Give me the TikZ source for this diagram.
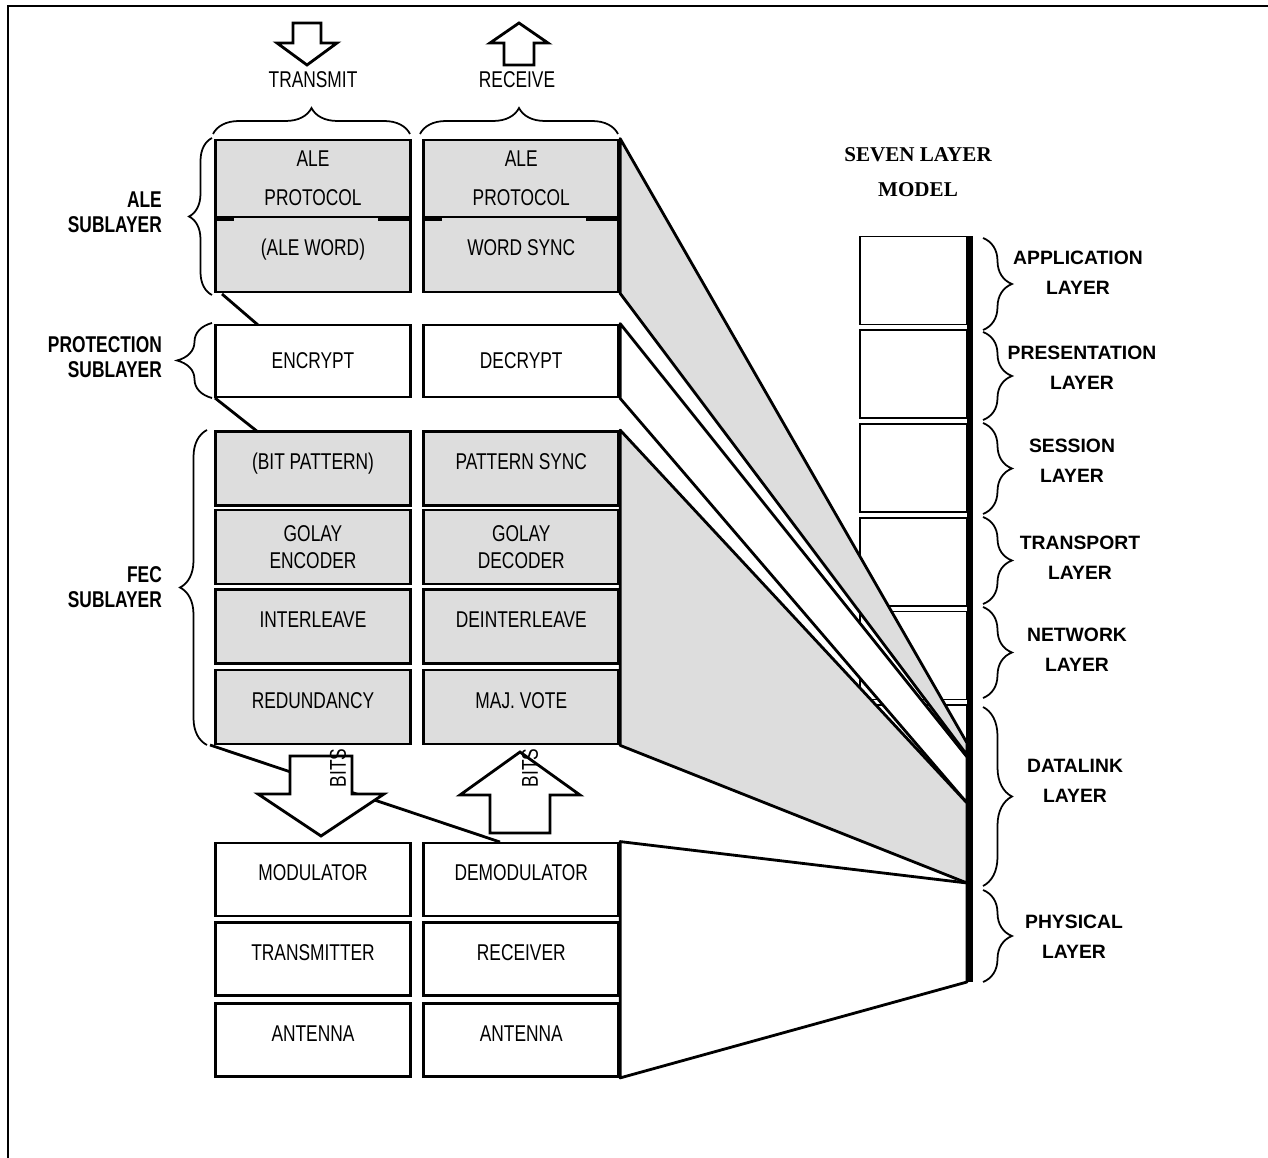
\documentclass[tikz,border=0pt]{standalone}
\usepackage{fontspec}
\setmainfont{Liberation Sans}
\newfontfamily\narrowfont[FakeStretch=0.76]{Liberation Sans}
\newfontfamily\titlefont{Liberation Serif}
\usepackage{xcolor}
\usetikzlibrary{positioning, decorations.pathreplacing}
\definecolor{layergray}{RGB}{221,221,221}

\begin{document}
\begin{tikzpicture}[
  x=0.02cm, y=-0.02cm,
  box/.style={draw, line width=1.6pt, fill=white, minimum width=3.9cm, minimum height=1.48cm,
    inner sep=0pt, align=center, font=\narrowfont\fontsize{13}{15}\selectfont},
  shaded/.style={box, fill=layergray},
  lifted/.style={text height=0.3cm, text depth=0.26cm},
  sublabel/.style={anchor=east, align=right, font=\narrowfont\bfseries\fontsize{13}{14}\selectfont},
  osilabel/.style={align=center, font=\bfseries\fontsize{11}{17}\selectfont},
  osibox/.style={draw, line width=1pt, minimum width=2.14cm, minimum height=1.76cm, inner sep=0pt},
  fan/.style={line width=1.6pt, line join=round},
  bigarrow/.style={draw, line width=1.6pt, fill=white, line join=miter},
  curly/.style={decorate, decoration={brace, amplitude=#1}, line width=1pt},
  curly/.default=0.5cm
]
\useasboundingbox (0,0) rectangle (1268,1158);
\draw[line width=1.5pt] (8,1158) -- (8,6) -- (1268,6);

% direction arrows
\draw[bigarrow] (293,23) -- (321,23) -- (321,43) -- (337,43) -- (307,65) -- (277,43) -- (293,43) -- cycle;
\draw[bigarrow] (504,65) -- (534,65) -- (534,43) -- (548,43) -- (519,23) -- (490,43) -- (504,43) -- cycle;
\node[font=\narrowfont\fontsize{13}{15}\selectfont] (txLabel) at (313,80) {TRANSMIT};
\node[font=\narrowfont\fontsize{13}{15}\selectfont] (rxLabel) at (517,80) {RECEIVE};
\draw[curly=0.52cm] (213,134) -- (410,134);
\draw[curly=0.52cm] (420,134) -- (618,134);

% transmit side
\node[shaded, minimum height=1.54cm] (aleTx) at (313,178.5) {ALE\\[7pt]PROTOCOL};
\node[shaded, lifted, minimum height=1.5cm] (wordTx) at (313,254.5) {(ALE WORD)};
\node[box, minimum height=1.44cm] (encrypt) at (313,361) {ENCRYPT};
\node[shaded, lifted] (bitpat) at (313,468.5) {(BIT PATTERN)};
\node[shaded] (golayEnc) at (313,547) {GOLAY\\ENCODER};
\node[shaded, lifted] (interleave) at (313,626.5) {INTERLEAVE};
\node[shaded, lifted] (redund) at (313,707) {REDUNDANCY};
\node[box, lifted, minimum height=1.46cm] (modulator) at (313,879.5) {MODULATOR};
\node[box, lifted, minimum height=1.46cm] (transmitter) at (313,959) {TRANSMITTER};
\node[box, lifted, minimum height=1.46cm] (antennaTx) at (313,1040) {ANTENNA};

% receive side
\node[shaded, minimum height=1.54cm, right=0.21cm of aleTx] (aleRx) {ALE\\[7pt]PROTOCOL};
\node[shaded, lifted, minimum height=1.5cm, right=0.21cm of wordTx] (wordSync) {WORD SYNC};
\node[box, minimum height=1.44cm, right=0.21cm of encrypt] (decrypt) {DECRYPT};
\node[shaded, lifted, right=0.21cm of bitpat] (patSync) {PATTERN SYNC};
\node[shaded, right=0.21cm of golayEnc] (golayDec) {GOLAY\\DECODER};
\node[shaded, lifted, right=0.21cm of interleave] (deinterleave) {DEINTERLEAVE};
\node[shaded, lifted, right=0.21cm of redund] (majVote) {MAJ. VOTE};
\node[box, lifted, minimum height=1.46cm, right=0.21cm of modulator] (demod) {DEMODULATOR};
\node[box, lifted, minimum height=1.46cm, right=0.21cm of transmitter] (receiver) {RECEIVER};
\node[box, lifted, minimum height=1.46cm, right=0.21cm of antennaTx] (antennaRx) {ANTENNA};

\draw[line width=2.5pt] (aleTx.south west) -- ++(20,0);
\draw[line width=2.5pt] (aleTx.south east) -- ++(-34,0);
\draw[line width=2.5pt] (aleRx.south west) -- ++(20,0);
\draw[line width=2.5pt] (aleRx.south east) -- ++(-34,0);

% sublayers
\draw[curly=0.46cm] (212,295) -- (212,138);
\draw[curly=0.7cm] (212,398) -- (212,323);
\draw[curly=0.54cm] (207,745) -- (207,430);
\node[sublabel] (aleSub) at (168,212) {ALE\\SUBLAYER};
\node[sublabel] (protSub) at (168,357) {PROTECTION\\SUBLAYER};
\node[sublabel] (fecSub) at (168,587) {FEC\\SUBLAYER};

\coordinate (aleFoot) at (222,294);
\coordinate (protHead) at (258,325);
\coordinate (protFoot) at (215,398);
\coordinate (fecHead) at (258,432);
\coordinate (fecFoot) at (210,745);
\coordinate (radioHead) at (500,842);
\draw[fan] (aleFoot) -- (protHead);
\draw[fan] (protFoot) -- (fecHead);
\draw[fan] (fecFoot) -- (radioHead);

% bits to and from the radio
\draw[bigarrow] (290,756) -- (352,756) -- (352,794) -- (384,794) -- (321,836) -- (258,794) -- (290,794) -- cycle;
\draw[bigarrow] (490,833) -- (550,833) -- (550,795) -- (580,795) -- (520,752) -- (460,795) -- (490,795) -- cycle;
\node[rotate=90, font=\narrowfont\fontsize{13}{15}\selectfont] (txBits) at (338,768) {BITS};
\node[rotate=90, font=\narrowfont\fontsize{13}{15}\selectfont] (rxBits) at (530,768) {BITS};

% seven layer model
\node[align=center, font=\titlefont\bfseries\fontsize{12}{20}\selectfont] (title) at (918,172) {SEVEN LAYER\\MODEL};
\node[osibox] (osiApp) at (913.5,280.5) {};
\node[osibox, below=0.08cm of osiApp] (osiPres) {};
\node[osibox, below=0.08cm of osiPres] (osiSes) {};
\node[osibox, below=0.08cm of osiSes] (osiTrans) {};
\node[osibox, below=0.08cm of osiTrans] (osiNet) {};
\node[osibox, below=0.08cm of osiNet] (osiLink) {};

\coordinate (aleTop) at (967,743);
\coordinate (aleBot) at (967,755);
\coordinate (protTop) at (967,757);
\coordinate (protBot) at (967,803);
\coordinate (fecTop) at (967,803);
\coordinate (fecBot) at (967,883);
\coordinate (phyTop) at (967,883);
\coordinate (phyBot) at (967,982);
\filldraw[fan, fill=layergray] (aleRx.north east) -- (aleTop) -- (aleBot) -- (wordSync.south east) -- cycle;
\filldraw[fan, fill=white] (decrypt.north east) -- (protTop) -- (protBot) -- (decrypt.south east) -- cycle;
\filldraw[fan, fill=layergray] (patSync.north east) -- (fecTop) -- (fecBot) -- (majVote.south east) -- cycle;
\filldraw[fan, fill=white] (demod.north east) -- (phyTop) -- (phyBot) -- (antennaRx.south east) -- cycle;
\fill (967,236) rectangle (973,982);

\draw[curly=0.58cm] (983,238) -- (983,330);
\draw[curly=0.58cm] (983,332) -- (983,420);
\draw[curly=0.58cm] (983,423) -- (983,514);
\draw[curly=0.58cm] (983,517) -- (983,604);
\draw[curly=0.58cm] (983,607) -- (983,698);
\draw[curly=0.58cm] (983,707) -- (983,886);
\draw[curly=0.58cm] (983,890) -- (983,982);
\node[osilabel] (appLbl) at (1078,273) {APPLICATION\\LAYER};
\node[osilabel] (presLbl) at (1082,368) {PRESENTATION\\LAYER};
\node[osilabel] (sesLbl) at (1072,461) {SESSION\\LAYER};
\node[osilabel] (transLbl) at (1080,558) {TRANSPORT\\LAYER};
\node[osilabel] (netLbl) at (1077,650) {NETWORK\\LAYER};
\node[osilabel] (linkLbl) at (1075,781) {DATALINK\\LAYER};
\node[osilabel] (phyLbl) at (1074,937) {PHYSICAL\\LAYER};
\end{tikzpicture}
\end{document}
